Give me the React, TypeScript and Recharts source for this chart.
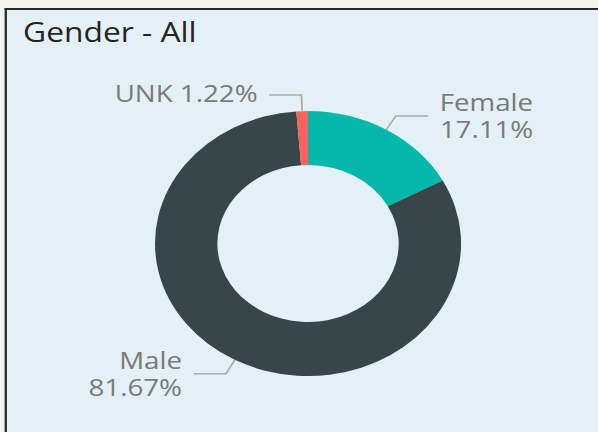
import { PieChart, Pie, Cell } from 'recharts';

// reference is stretched horizontally, so draw narrower and scale on X
const S = 1.155;
const W = 598 / S;
const H = 432;

const CATEGORIES = ['Female', 'Male', 'UNK'];
const SHARES = [17.11, 81.67, 1.22];
const COLORS = ['#01B8AA', '#374649', '#FD625E'];
const SINGLE_LINE = ['UNK'];

const data = CATEGORIES.map((name, i) => ({ name, value: SHARES[i] }));

const FONT = '"Open Sans", "Noto Sans", sans-serif';
const LABEL_COLOR = '#7a7a7a';

function leader(cx: number, cy: number, midAngle: number, r: number) {
  const rad = (-midAngle * Math.PI) / 180;
  const cos = Math.cos(rad);
  const sin = Math.sin(rad);
  const p0 = { x: cx + r * cos, y: cy + r * sin };
  const p1 = { x: cx + (r + 16) * cos, y: cy + (r + 16) * sin };
  const dir = cos >= 0 ? 1 : -1;
  const p2 = { x: p1.x + dir * 28, y: p1.y };
  return { p0, p1, p2, dir };
}

const renderLine = (props: any) => {
  const { cx, cy, midAngle, outerRadius } = props;
  const { p0, p1, p2 } = leader(cx, cy, midAngle, outerRadius);
  return (
    <path
      d={`M${p0.x},${p0.y}L${p1.x},${p1.y}L${p2.x},${p2.y}`}
      stroke="#ababab"
      strokeWidth={1.5}
      fill="none"
    />
  );
};

const renderLabel = (props: any) => {
  const { cx, cy, midAngle, outerRadius, name, value } = props;
  const { p2, dir } = leader(cx, cy, midAngle, outerRadius);
  const x = p2.x + dir * 10;
  const anchor = dir > 0 ? 'start' : 'end';
  const pct = `${Number(value).toFixed(2)}%`;
  if (SINGLE_LINE.includes(name)) {
    return (
      <text x={x} y={p2.y + 7} textAnchor={anchor} fill={LABEL_COLOR} fontSize={24} fontFamily={FONT}>
        {`${name} ${pct}`}
      </text>
    );
  }
  return (
    <g>
      <text x={x} y={p2.y - 5} textAnchor={anchor} fill={LABEL_COLOR} fontSize={24} fontFamily={FONT}>
        {name}
      </text>
      <text x={x} y={p2.y + 22} textAnchor={anchor} fill={LABEL_COLOR} fontSize={24} fontFamily={FONT}>
        {pct}
      </text>
    </g>
  );
};

export default function App() {
  return (
    <div
      style={{
        position: 'fixed',
        left: 0,
        top: 0,
        width: 598,
        height: H,
        overflow: 'hidden',
        background: '#f4f4ef',
      }}
    >
      <div
        style={{
          position: 'absolute',
          left: 0,
          top: 0,
          width: W,
          height: H,
          transform: `scaleX(${S})`,
          transformOrigin: '0 0',
        }}
      >
        <div
          style={{
            position: 'absolute',
            left: 3.5,
            top: 7.5,
            width: W + 20,
            height: H + 20,
            borderLeft: '2px solid #2b2b2b',
            borderTop: '2px solid #2b2b2b',
            background: '#e3f1f6',
          }}
        />
        <div
          style={{
            position: 'absolute',
            left: 20,
            top: 13.5,
            fontFamily: FONT,
            fontSize: 27.5,
            lineHeight: '36px',
            color: '#252423',
            whiteSpace: 'nowrap',
          }}
        >
          Gender - All
        </div>
        <div style={{ position: 'absolute', left: 0, top: 0 }}>
          <PieChart width={W} height={H} margin={{ top: 0, right: 0, bottom: 0, left: 0 }}>
            <Pie
              data={data}
              dataKey="value"
              nameKey="name"
              cx={266.7}
              cy={243.5}
              innerRadius={78.5}
              outerRadius={132.5}
              startAngle={90}
              endAngle={-270}
              stroke="none"
              isAnimationActive={false}
              labelLine={renderLine}
              label={renderLabel}
            >
              {data.map((d, i) => (
                <Cell key={d.name} fill={COLORS[i]} />
              ))}
            </Pie>
          </PieChart>
        </div>
      </div>
    </div>
  );
}
